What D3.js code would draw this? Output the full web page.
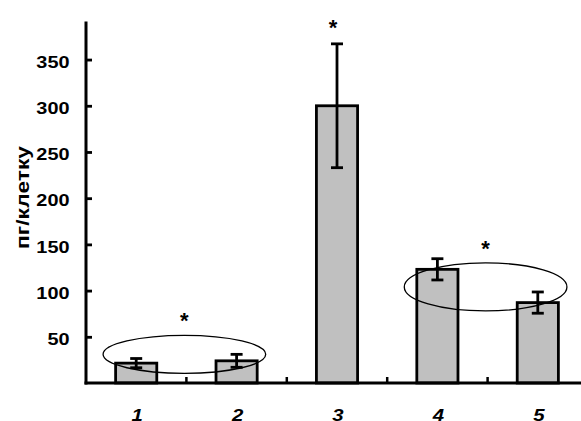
<!DOCTYPE html>
<html>
<head>
<meta charset="utf-8">
<script src="https://cdn.jsdelivr.net/npm/d3@7"></script>
<style>
  html, body { margin: 0; padding: 0; background: #fff; }
  svg { display: block; }
  text { font-family: "Liberation Sans", Arial, sans-serif; font-weight: bold; fill: #000; }
</style>
</head>
<body>
<svg id="chart" width="581" height="421"></svg>
<script>
// Groups, mean values and error (±) for each group
const categories = ["1", "2", "3", "4", "5"];
const values = [21.5, 24, 300, 123, 87];
const errors = [5, 7, 67, 11.5, 11.5];
const yTicks = [50, 100, 150, 200, 250, 300, 350];
const yLabel = "пг/клетку";
// Significance marks: single bar or a pair of bars grouped by an ellipse
const starGroups = [["3"], ["1", "2"], ["4", "5"]];
const ellipseCenters = [null, 31, 104];   // value at ellipse centre
const ellipseRadii = [null, 20.5, 26];    // vertical half-size in value units

const svg = d3.select("#chart");
const x0 = 86, x1 = 588, yBase = 383, yTop = 22.6;

const x = d3.scaleBand().domain(categories).range([x0, x1]).padding(0);
const y = d3.scaleLinear().domain([0, 390]).range([yBase, yTop]);
const barW = x.step() * 0.41;
const cx = c => x(c) + x.bandwidth() / 2;

// Bars
svg.append("g").selectAll("rect")
  .data(categories)
  .join("rect")
  .attr("x", c => cx(c) - barW / 2)
  .attr("y", (c, i) => y(values[i]))
  .attr("width", barW)
  .attr("height", (c, i) => y(0) - y(values[i]))
  .attr("fill", "#c0c0c0")
  .attr("stroke", "#000")
  .attr("stroke-width", 2.8);

// Error bars
const eb = svg.append("g").attr("stroke", "#000").attr("stroke-width", 2.8);
categories.forEach((c, i) => {
  const hi = y(values[i] + errors[i]), lo = y(values[i] - errors[i]);
  eb.append("line").attr("x1", cx(c)).attr("x2", cx(c)).attr("y1", hi).attr("y2", lo);
  eb.append("line").attr("x1", cx(c) - 6).attr("x2", cx(c) + 6).attr("y1", hi).attr("y2", hi);
  eb.append("line").attr("x1", cx(c) - 6).attr("x2", cx(c) + 6).attr("y1", lo).attr("y2", lo);
});

// Ellipses around grouped bars and asterisks
const marks = svg.append("g");
starGroups.forEach((g, k) => {
  if (g.length === 1) {
    const i = categories.indexOf(g[0]);
    marks.append("text")
      .attr("x", cx(g[0]) - 4).attr("y", y(values[i] + errors[i]) - 9)
      .attr("text-anchor", "middle").attr("font-size", 22).text("*");
  } else {
    const mx = (cx(g[0]) + cx(g[1])) / 2 - 2;
    const ey = y(ellipseCenters[k]);
    const ry = y(0) - y(ellipseRadii[k]);
    marks.append("ellipse")
      .attr("cx", mx).attr("cy", ey).attr("rx", x.step() * 0.81).attr("ry", ry)
      .attr("fill", "none").attr("stroke", "#000").attr("stroke-width", 1.3);
    marks.append("text")
      .attr("x", mx).attr("y", ey - ry - 7)
      .attr("text-anchor", "middle").attr("font-size", 22).text("*");
  }
});

// Y axis
const yAxis = svg.append("g").attr("transform", `translate(${x0},0)`)
  .call(d3.axisLeft(y).tickValues(yTicks).tickSize(-6).tickPadding(0));
yAxis.select(".domain").remove();
yAxis.selectAll(".tick line").attr("stroke", "#000").attr("stroke-width", 2.8);
yAxis.selectAll(".tick text")
  .attr("x", 0).attr("dy", "0.47em")
  .attr("font-size", 16.3)
  .attr("text-anchor", "end")
  .attr("transform", "translate(-16.5,0) scale(1.22,1)")
  .attr("font-family", null);
svg.append("line").attr("x1", x0).attr("x2", x0).attr("y1", yTop - 1).attr("y2", yBase + 1.4)
  .attr("stroke", "#000").attr("stroke-width", 3);

// X axis with boundary ticks between groups
const xb = svg.append("g");
d3.range(1, categories.length).forEach(j => {
  const bx = x0 + j * x.step();
  xb.append("line").attr("x1", bx).attr("x2", bx).attr("y1", yBase - 6).attr("y2", yBase)
    .attr("stroke", "#000").attr("stroke-width", 2.5);
});
svg.append("line").attr("x1", x0 - 1.5).attr("x2", 581).attr("y1", yBase).attr("y2", yBase)
  .attr("stroke", "#000").attr("stroke-width", 3);

// Category labels
svg.append("g").selectAll("text")
  .data(categories)
  .join("text")
  .attr("transform", c => `translate(${cx(c) + 1},421) scale(1.2,1)`)
  .attr("text-anchor", "middle")
  .attr("font-size", 17)
  .attr("font-style", "italic")
  .text(c => c);

// Y axis title
svg.append("text")
  .attr("transform", "translate(29,197.5) rotate(-90) scale(1.3,1)")
  .attr("text-anchor", "middle")
  .attr("font-size", 17.5)
  .text(yLabel);
</script>
</body>
</html>
